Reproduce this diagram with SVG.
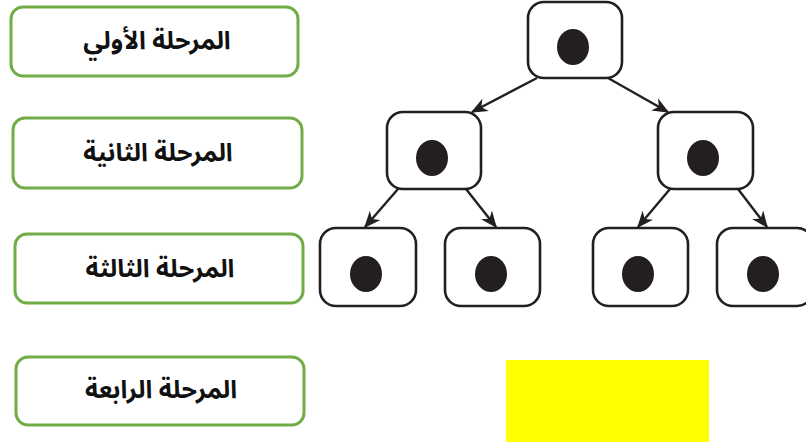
<svg xmlns="http://www.w3.org/2000/svg" width="806" height="442" viewBox="0 0 806 442">
  <style>
    .stage rect { fill: #ffffff; stroke: #70ad47; stroke-width: 3; }
    .stage text { font-family: "Noto Sans Arabic", "DejaVu Sans", sans-serif; font-size: 25px; font-weight: bold; fill: #111111; text-anchor: middle; direction: rtl; }
    .cell rect { fill: #ffffff; stroke: #231f20; stroke-width: 2.6; }
    .cell ellipse { fill: #231f20; }
    #connectors line { stroke: #231f20; stroke-width: 2.4; marker-end: url(#arrow); }
  </style>
  <defs>
    <marker id="arrow" viewBox="0 0 12 10" refX="11" refY="5" markerWidth="7" markerHeight="6" markerUnits="strokeWidth" orient="auto">
      <path d="M0,0 L12,5 L0,10 L3.5,5 z" fill="#231f20"/>
    </marker>
  </defs>

  <!-- stage labels -->
  <g id="stage1" class="stage">
    <rect x="11" y="7" width="287" height="69" rx="12"/>
    <text x="157" y="49">المرحلة الأولي</text>
  </g>
  <g id="stage2" class="stage">
    <rect x="13" y="118" width="289" height="70" rx="12"/>
    <text x="158" y="161">المرحلة الثانية</text>
  </g>
  <g id="stage3" class="stage">
    <rect x="15" y="234" width="288" height="69" rx="12"/>
    <text x="160" y="277">المرحلة الثالثة</text>
  </g>
  <g id="stage4" class="stage">
    <rect x="16" y="357" width="288" height="68" rx="12"/>
    <text x="161" y="398">المرحلة الرابعة</text>
  </g>

  <!-- cells -->
  <g id="cell-root" class="cell">
    <rect x="528" y="2" width="94" height="76" rx="16"/>
    <ellipse cx="573" cy="47" rx="16" ry="18"/>
  </g>
  <g id="cell-l" class="cell">
    <rect x="387" y="112" width="94" height="77" rx="16"/>
    <ellipse cx="432" cy="158" rx="16" ry="18"/>
  </g>
  <g id="cell-r" class="cell">
    <rect x="658" y="112" width="95" height="77" rx="16"/>
    <ellipse cx="703" cy="158" rx="16" ry="18"/>
  </g>
  <g id="cell-ll" class="cell">
    <rect x="320" y="228" width="96" height="78" rx="16"/>
    <ellipse cx="366" cy="274" rx="16" ry="18"/>
  </g>
  <g id="cell-lr" class="cell">
    <rect x="445" y="228" width="95" height="78" rx="16"/>
    <ellipse cx="491" cy="274" rx="16" ry="18"/>
  </g>
  <g id="cell-rl" class="cell">
    <rect x="593" y="228" width="95" height="78" rx="16"/>
    <ellipse cx="638" cy="274" rx="16" ry="18"/>
  </g>
  <g id="cell-rr" class="cell">
    <rect x="717" y="228" width="96" height="78" rx="16"/>
    <ellipse cx="763" cy="274" rx="16" ry="18"/>
  </g>

  <!-- division arrows -->
  <g id="connectors">
    <line x1="537" y1="78" x2="472" y2="112"/>
    <line x1="608" y1="78" x2="668" y2="112"/>
    <line x1="398" y1="189" x2="365" y2="227"/>
    <line x1="466" y1="189" x2="496" y2="227"/>
    <line x1="670" y1="189" x2="638" y2="227"/>
    <line x1="738" y1="189" x2="767" y2="227"/>
  </g>

  <!-- answer area -->
  <rect id="answer" x="506" y="360" width="203" height="82" fill="#ffff00"/>
</svg>
